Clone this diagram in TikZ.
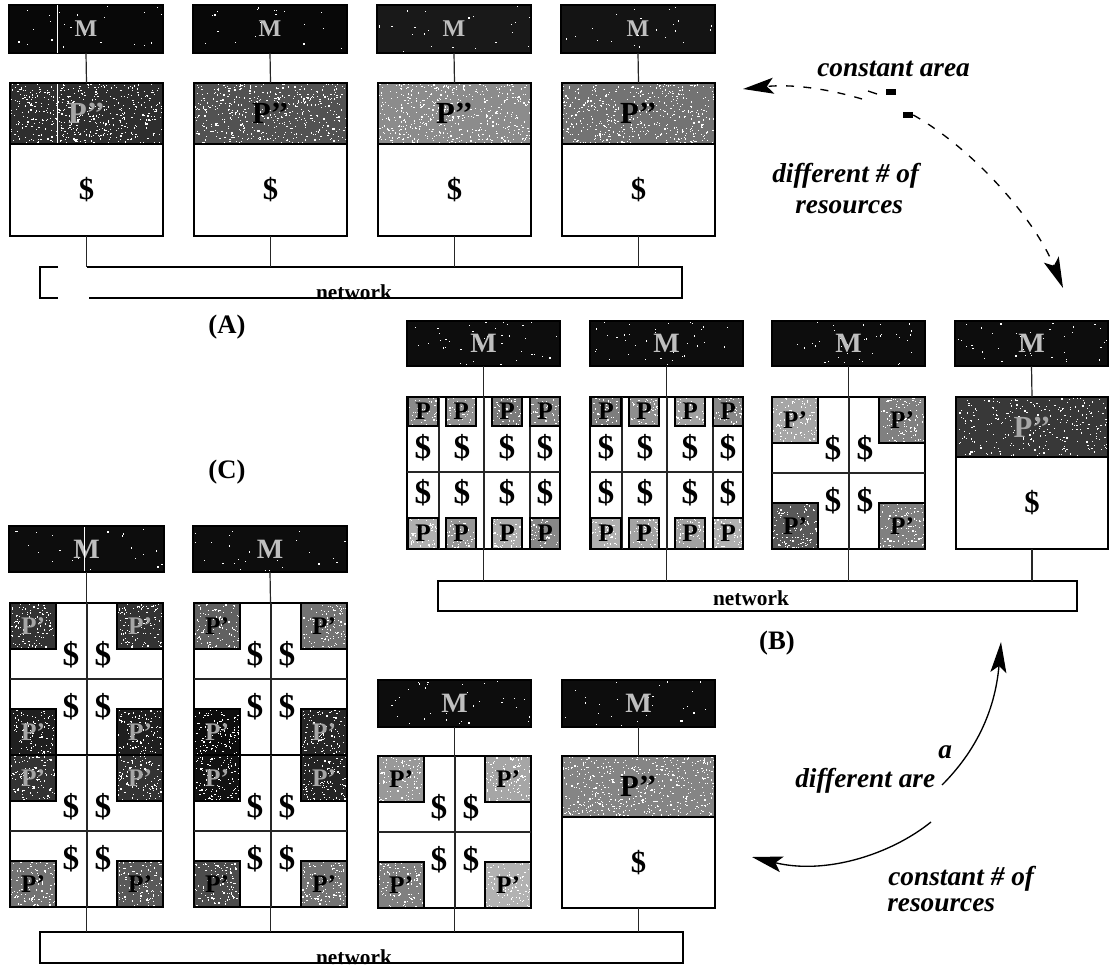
\documentclass[tikz,border=0pt]{standalone}
\usepackage{fontspec}
\setmainfont{Liberation Serif}
\usetikzlibrary{arrows.meta,calc}
\newcommand{\fsz}[1]{\fontsize{#1}{#1}\selectfont\bfseries}
\tikzset{
  x=0.75pt,y=-0.75pt,
  blk/.style={draw=black,line width=0.9pt,inner sep=0pt,outer sep=0pt,rectangle,fill=white},
  speck/.style n args={3}{path picture={\ifnum#3>0 \foreach \k in {1,...,#3}{\pgfmathsetmacro\rx{(rnd-0.5)*#1*0.75}\pgfmathsetmacro\ry{(rnd-0.5)*#2*0.75}\fill[white,draw=none] ([xshift=\rx pt,yshift=\ry pt]path picture bounding box.center) rectangle ++(0.9pt,0.9pt);}\fi}},
  mem/.style={fill=black!95,text=black!25,font=\fsz{21}},
  dollar/.style={inner sep=0pt,font=\fsz{25}},
  netlbl/.style={inner sep=0pt,font=\fsz{16}},
  panellbl/.style={inner sep=0pt,font=\fsz{20}},
  note/.style={inner sep=0pt,anchor=base west,font=\fontsize{20.5}{22}\selectfont\bfseries\itshape},
  wire/.style={line width=0.9pt,draw=black!85},
  bigtip/.style={-{Stealth[length=23pt,width=12pt,inset=5pt]}},
  tinyrect/.style={fill=black,inner sep=0pt,minimum width=7.5pt,minimum height=4pt},
}
\newcommand{\mybox}[8]{%
  \pgfmathsetmacro\bw{(#4)-(#2)}\pgfmathsetmacro\bh{(#5)-(#3)}\pgfmathtruncatemacro\bn{(#7)*(\bw/1000)*\bh}%
  \node[blk,#6,minimum width=\bw*0.75pt,minimum height=\bh*0.75pt,speck={\bw}{\bh}{\bn}] (#1) at ({((#2)+(#4))/2},{((#3)+(#5))/2}) {#8};}
\newcommand{\pbox}[8]{% name x1 y1 x2 y2 gray size text
  \pgfmathtruncatemacro\tc{(#6)>70 ? 35 : 100}%
  \mybox{#1}{#2}{#3}{#4}{#5}{fill=black!#6,text=black!\tc,font=\fsz{#7}}{55}{#8}}
\newcommand{\quadblk}[7]{% name x1 y1 grays
  \node[blk,minimum width=153*0.75pt,minimum height=152*0.75pt] (#1) at ({(#2)+76.5},{(#3)+76}) {};
  \draw[wire] ({#2},{(#3)+76}) -- ({(#2)+153},{(#3)+76});
  \draw[wire] ({(#2)+77},{#3}) -- ({(#2)+77},{(#3)+152});
  \pbox{#1tl}{#2}{#3}{(#2)+46}{(#3)+46}{#4}{19}{P'}
  \pbox{#1tr}{(#2)+107}{#3}{(#2)+153}{(#3)+46}{#5}{19}{P'}
  \pbox{#1bl}{#2}{(#3)+106}{(#2)+46}{(#3)+152}{#6}{19}{P'}
  \pbox{#1br}{(#2)+107}{(#3)+106}{(#2)+153}{(#3)+152}{#7}{19}{P'}
  \node[dollar] (#1d1) at ({(#2)+61},{(#3)+52}) {\$};
  \node[dollar] (#1d2) at ({(#2)+93},{(#3)+52}) {\$};
  \node[dollar] (#1d3) at ({(#2)+61},{(#3)+104}) {\$};
  \node[dollar] (#1d4) at ({(#2)+93},{(#3)+104}) {\$};
}
\begin{document}
\begin{tikzpicture}
\pgfmathsetseed{7}
\useasboundingbox (0,0) rectangle (1109,967);
\fill[white] (0,0) rectangle (1109,967);

% ---- Panel A ----
\foreach \n/\cx/\mg/\pg/\tc in {1/86/97/82/35,2/270/97/68/100,3/454/90/45/100,4/638/92/55/100}{
  \mybox{Am\n}{\cx-77}{5}{\cx+77}{53}{mem,fill=black!\mg,font=\fsz{18}}{3}{M}
  \mybox{Ap\n}{\cx-76}{83}{\cx+77}{144}{fill=black!\pg,text=black!\tc,font=\fsz{23}}{55}{P{'}{'}}
  \mybox{Ac\n}{\cx-76}{144}{\cx+77}{236}{}{0}{\fsz{23}\$}
  \draw[wire] (Am\n.south) -- (Ap\n.north);
}
\draw[white,line width=0.7pt] (57,5) -- (57,53) (57,84) -- (57,143);
\node[inner sep=0pt,minimum width=642*0.75pt,minimum height=31*0.75pt] (netA) at (361,282.5) {};
\draw[line width=0.9pt] (58,267) -- (40,267) -- (40,298) -- (58,298);
\draw[line width=0.9pt] (87,267) -- (682,267) -- (682,298) -- (89,298);
\foreach \n in {1,2,3,4}{\draw[wire] (Ac\n.south) -- (Ac\n.south |- netA.north);}
\node[netlbl] (lblnetA) at (354,292) {network};
\node[panellbl] (lblA) at (227,327) {(A)};

% ---- Panel B ----
\foreach \n/\cx in {1/484,2/667,3/849,4/1032}{
  \mybox{Bm\n}{\cx-77}{321}{\cx+76}{366}{mem}{6}{M}
}
\foreach \c/\ox in {1/0,2/183}{
  \node[blk,minimum width=153*0.75pt,minimum height=152*0.75pt] (Bg\c) at ({483.5+\ox},473) {};
  \draw[wire] ({407+\ox},472) -- ({560+\ox},472);
  \foreach \vx in {439,484,530}{\draw[wire] ({\vx+\ox},397) -- ({\vx+\ox},549);}
  \foreach \k/\xa/\xb/\sx in {1/408/438/423,2/446/476/462,3/492/522/507,4/530/560/545}{
    \pgfmathtruncatemacro\ga{30+25*rnd}
    \pgfmathtruncatemacro\gb{28+20*rnd}
    \pbox{BP\c t\k}{\xa+\ox}{397}{\xb+\ox}{426}{\ga}{19}{P}
    \pbox{BP\c b\k}{\xa+\ox}{518}{\xb+\ox}{549}{\gb}{19}{P}
    \node[dollar] (BD\c t\k) at ({\sx+\ox},448) {\$};
    \node[dollar] (BD\c b\k) at ({\sx+\ox},493) {\$};
  }
}
\quadblk{Bq3}{772}{397}{35}{50}{65}{50}
\mybox{Bp4}{956}{397}{1108}{457}{fill=black!78,text=black!35,font=\fsz{23}}{30}{P{'}{'}}
\mybox{Bc4}{956}{457}{1108}{549}{}{0}{\fsz{23}\$}
\node[blk,minimum width=639*0.75pt,minimum height=30*0.75pt] (netB) at (757.5,596) {};
\node[netlbl] (lblnetB) at (751,598) {network};
\node[panellbl] (lblB) at (777,643) {(B)};
\draw[wire] (Bm1.south) -- (Bg1.north);
\draw[wire] (Bm2.south) -- (Bg2.north);
\draw[wire] (Bm3.south) -- (Bq3.north);
\draw[wire] (Bm4.south) -- (Bp4.north);
\draw[wire] (Bg1.south) -- (Bg1.south |- netB.north);
\draw[wire] (Bg2.south) -- (Bg2.south |- netB.north);
\draw[wire] (Bq3.south) -- (Bq3.south |- netB.north);
\draw[wire] (Bc4.south) -- (Bc4.south |- netB.north);

% ---- Panel C ----
\node[panellbl] (lblC) at (227,472) {(C)};
\mybox{Cm1}{9}{526}{164}{572}{mem}{3}{M}
\mybox{Cm2}{193}{526}{347}{572}{mem}{4}{M}
\mybox{Cm3}{378}{680}{531}{727}{mem}{5}{M}
\mybox{Cm4}{562}{680}{715}{727}{mem}{4}{M}
\draw[white,line width=0.7pt] (84,527) -- (84,571);
\quadblk{Cq1a}{10}{603}{80}{80}{88}{88}
\quadblk{Cq1b}{10}{755}{80}{80}{55}{65}
\quadblk{Cq2a}{194}{603}{62}{55}{95}{85}
\quadblk{Cq2b}{194}{755}{93}{86}{70}{55}
\quadblk{Cq3}{378}{756}{40}{35}{50}{30}
\mybox{Cp4}{562}{756}{715}{817}{fill=black!48,font=\fsz{23}}{55}{P{'}{'}}
\mybox{Cc4}{562}{817}{715}{908}{}{0}{\fsz{23}\$}
\node[blk,minimum width=643*0.75pt,minimum height=31*0.75pt] (netC) at (361.5,947.5) {};
\node[netlbl] (lblnetC) at (354,957) {network};
\draw[wire] (Cm1.south) -- (Cq1a.north);
\draw[wire] (Cm2.south) -- (Cq2a.north);
\draw[wire] (Cm3.south) -- (Cq3.north);
\draw[wire] (Cm4.south) -- (Cp4.north);
\draw[wire] (Cq1b.south) -- (Cq1b.south |- netC.north);
\draw[wire] (Cq2b.south) -- (Cq2b.south |- netC.north);
\draw[wire] (Cq3.south) -- (Cq3.south |- netC.north);
\draw[wire] (Cc4.south) -- (Cc4.south |- netC.north);

% ---- Annotations ----
\node[note] (tConst) at (817,76) {constant area};
\node[note] (tDiff) at (772,182) {different \# of};
\node[note] (tRes) at (795,213) {resources};
\node[note] (tArea) at (795,787) {different are};
\node[note] (tA) at (938,758) {a};
\node[note] (tConN) at (888,885) {constant \# of};
\node[note] (tRes2) at (887,911) {resources};

\node[tinyrect] (ra) at (891,92) {};
\node[tinyrect] (rb) at (908,115) {};
\coordinate (d1s) at (862,99);
\coordinate (d1e) at (743,89);
\coordinate (d2e) at (1063,288);
\coordinate (s1s) at (942,785);
\coordinate (s1e) at (1001,642);
\coordinate (s2s) at (931,822);
\coordinate (s2e) at (752,857);
\draw[line width=1pt,dash pattern=on 6pt off 7pt,bigtip] (d1s) .. controls (825,88) and (790,84) .. (d1e);
\draw[line width=1pt] (868,91) -- (877,94);
\draw[line width=1pt,dash pattern=on 6pt off 7pt,bigtip] (rb.east) .. controls (975,150) and (1035,220) .. (d2e);
\draw[line width=1pt,bigtip] (s1s) .. controls (975,752) and (995,712) .. (s1e);
\draw[line width=1pt,bigtip] (s2s) .. controls (890,855) and (825,875) .. (s2e);
\end{tikzpicture}
\end{document}
